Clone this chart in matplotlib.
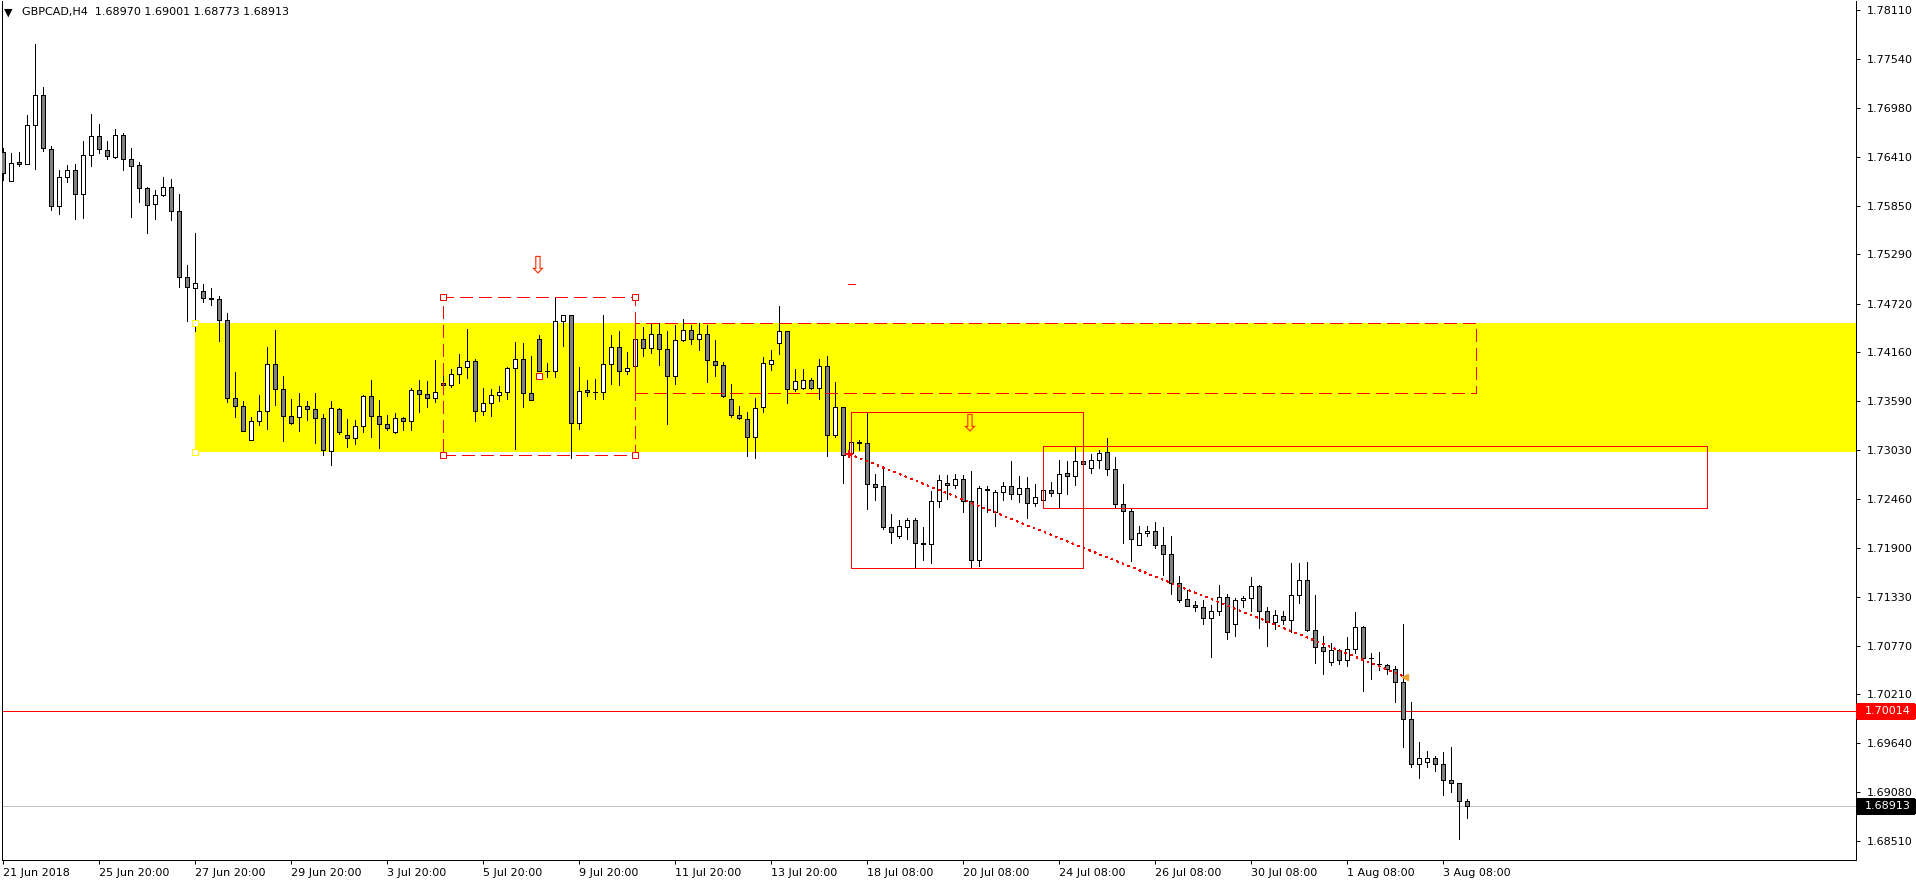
import numpy as np
import matplotlib
matplotlib.use("Agg")
import matplotlib.pyplot as plt
from matplotlib.patches import Rectangle
from matplotlib.transforms import blended_transform_factory

# GBPCAD H4 bars (bar 0 = left edge)
opens = [1.76471, 1.76135, 1.76355, 1.76332, 1.76782, 1.77129, 1.76505, 1.75847, 1.76182, 1.76263,
         1.75986, 1.76436, 1.76656, 1.76494, 1.76413, 1.76667, 1.76390, 1.76320, 1.76055, 1.75870,
         1.75974, 1.76066, 1.75789, 1.75027, 1.74900, 1.74865, 1.74784, 1.74773, 1.74530, 1.73630,
         1.73537, 1.73144, 1.73363, 1.73479, 1.74022, 1.73734, 1.73422, 1.73410, 1.73537, 1.73502,
         1.73398, 1.73017, 1.73502, 1.73202, 1.73167, 1.73306, 1.73652, 1.73422, 1.73329, 1.73237,
         1.73398, 1.73363, 1.73722, 1.73676, 1.73630, 1.73803, 1.73780, 1.73907, 1.73988, 1.74057,
         1.73479, 1.73571, 1.73664, 1.73699, 1.73976, 1.74080, 1.73687, 1.74311, 1.73941, 1.73941,
         1.74518, 1.74588, 1.73340, 1.73722, 1.73699, 1.73699, 1.74022, 1.74218, 1.73941, 1.73999,
         1.74311, 1.74207, 1.74369, 1.74195, 1.73884, 1.74299, 1.74415, 1.74311, 1.74369, 1.74057,
         1.74010, 1.73618, 1.73433, 1.73387, 1.73179, 1.73525, 1.74022, 1.74264, 1.74403, 1.73734,
         1.73745, 1.73837, 1.73745, 1.73999, 1.73202, 1.73525, 1.72994, 1.73109, 1.73109, 1.72636,
         1.72613, 1.72140, 1.72036, 1.72140, 1.72220, 1.71943, 1.71943, 1.72440, 1.72647, 1.72624,
         1.72694, 1.72440, 1.71758, 1.72578, 1.72313, 1.72544, 1.72613, 1.72521, 1.72590, 1.72417,
         1.72451, 1.72567, 1.72532, 1.72763, 1.72728, 1.72902, 1.72821, 1.72913, 1.73005, 1.72809,
         1.72405, 1.72324, 1.71931, 1.72070, 1.72093, 1.71931, 1.71828, 1.71492, 1.71308, 1.71238,
         1.71215, 1.71088, 1.71169, 1.71331, 1.71019, 1.71296, 1.71319, 1.71458, 1.71169, 1.71042,
         1.71111, 1.71065, 1.71354, 1.71527, 1.70950, 1.70753, 1.70580, 1.70719, 1.70603, 1.70730,
         1.70984, 1.70626, 1.70557, 1.70545, 1.70499, 1.70349, 1.69922, 1.69402, 1.69425, 1.69471,
         1.69402, 1.69217, 1.69182, 1.68970]
highs = [1.76517, 1.76459, 1.76471, 1.76898, 1.77718, 1.77221, 1.76540, 1.76263, 1.76320, 1.76332,
         1.76597, 1.76910, 1.76794, 1.76597, 1.76736, 1.76690, 1.76517, 1.76355, 1.76066, 1.76032,
         1.76182, 1.76159, 1.75986, 1.75165, 1.75535, 1.74946, 1.74900, 1.74807, 1.74611, 1.73930,
         1.73594, 1.73410, 1.73664, 1.74218, 1.74415, 1.73884, 1.73618, 1.73687, 1.73594, 1.73687,
         1.73445, 1.73594, 1.73514, 1.73387, 1.73375, 1.73664, 1.73837, 1.73606, 1.73433, 1.73456,
         1.73410, 1.73745, 1.73837, 1.73826, 1.74068, 1.73907, 1.73964, 1.74138, 1.74426, 1.74080,
         1.73745, 1.73734, 1.73768, 1.73988, 1.74276, 1.74264, 1.74114, 1.74357, 1.74033, 1.74784,
         1.74588, 1.74588, 1.73988, 1.73837, 1.73849, 1.74588, 1.74357, 1.74403, 1.74161, 1.74334,
         1.74449, 1.74495, 1.74495, 1.74403, 1.74472, 1.74541, 1.74472, 1.74495, 1.74472, 1.74299,
         1.74045, 1.73791, 1.73537, 1.73468, 1.73630, 1.74103, 1.74184, 1.74692, 1.74403, 1.73964,
         1.73964, 1.73860, 1.74080, 1.74114, 1.73814, 1.73525, 1.73121, 1.73144, 1.73456, 1.72752,
         1.72809, 1.72290, 1.72220, 1.72243, 1.72243, 1.72140, 1.72555, 1.72740, 1.72740, 1.72752,
         1.72740, 1.72786, 1.72613, 1.72613, 1.72567, 1.72659, 1.72902, 1.72728, 1.72717, 1.72636,
         1.72613, 1.72659, 1.72913, 1.72902, 1.73063, 1.72925, 1.72982, 1.73029, 1.73167, 1.72948,
         1.72636, 1.72348, 1.72151, 1.72151, 1.72197, 1.72140, 1.72036, 1.71573, 1.71412, 1.71284,
         1.71296, 1.71238, 1.71469, 1.71366, 1.71319, 1.71342, 1.71562, 1.71469, 1.71215, 1.71181,
         1.71169, 1.71723, 1.71723, 1.71735, 1.71354, 1.70880, 1.70799, 1.70730, 1.70868, 1.71158,
         1.70996, 1.70684, 1.70696, 1.70557, 1.70534, 1.71019, 1.70118, 1.69656, 1.69552, 1.69494,
         1.69541, 1.69599, 1.69182, 1.69001]
lows = [1.76147, 1.76135, 1.76309, 1.76332, 1.76274, 1.76482, 1.75801, 1.75755, 1.76124, 1.75697,
        1.75709, 1.76309, 1.76459, 1.76390, 1.76402, 1.76263, 1.75720, 1.75893, 1.75535, 1.75697,
        1.75963, 1.75685, 1.74911, 1.74518, 1.74403, 1.74738, 1.74703, 1.74287, 1.73583, 1.73410,
        1.73248, 1.73144, 1.73317, 1.73271, 1.73548, 1.73132, 1.73329, 1.73248, 1.73375, 1.73109,
        1.72971, 1.72855, 1.73214, 1.73063, 1.73098, 1.73237, 1.73179, 1.73052, 1.73260, 1.73225,
        1.73260, 1.73260, 1.73468, 1.73525, 1.73583, 1.73745, 1.73757, 1.73803, 1.73861, 1.73363,
        1.73433, 1.73422, 1.73594, 1.73618, 1.73040, 1.73525, 1.73606, 1.73941, 1.73872, 1.73872,
        1.74230, 1.72936, 1.73271, 1.73652, 1.73618, 1.73618, 1.73791, 1.73780, 1.73907, 1.73988,
        1.74114, 1.74149, 1.74010, 1.73329, 1.73791, 1.74287, 1.74253, 1.74184, 1.73814, 1.73884,
        1.73641, 1.73410, 1.73387, 1.72959, 1.72936, 1.73468, 1.73953, 1.74138, 1.73571, 1.73710,
        1.73734, 1.73734, 1.73618, 1.72959, 1.73179, 1.72647, 1.72948, 1.73029, 1.72348, 1.72451,
        1.72117, 1.71954, 1.72012, 1.72001, 1.71666, 1.71758, 1.71723, 1.72370, 1.72463, 1.72590,
        1.72313, 1.71666, 1.71689, 1.72313, 1.72151, 1.72451, 1.72463, 1.72428, 1.72243, 1.72382,
        1.72382, 1.72498, 1.72359, 1.72521, 1.72624, 1.72844, 1.72763, 1.72821, 1.72740, 1.72370,
        1.71954, 1.71747, 1.71931, 1.72036, 1.71897, 1.71585, 1.71366, 1.71273, 1.71227, 1.71169,
        1.71019, 1.70638, 1.71122, 1.70846, 1.70880, 1.71215, 1.71169, 1.70973, 1.70765, 1.70961,
        1.71019, 1.70927, 1.71261, 1.70938, 1.70568, 1.70442, 1.70545, 1.70557, 1.70534, 1.70684,
        1.70245, 1.70384, 1.70488, 1.70442, 1.70118, 1.69599, 1.69367, 1.69240, 1.69367, 1.69321,
        1.69044, 1.69079, 1.68536, 1.68773]
closes = [1.76228, 1.76343, 1.76332, 1.76782, 1.77129, 1.76517, 1.75847, 1.76182, 1.76263, 1.75986,
          1.76436, 1.76656, 1.76505, 1.76425, 1.76667, 1.76390, 1.76309, 1.76055, 1.75858, 1.75974,
          1.76066, 1.75789, 1.75027, 1.74911, 1.74957, 1.74784, 1.74773, 1.74530, 1.73630, 1.73537,
          1.73248, 1.73363, 1.73479, 1.74022, 1.73734, 1.73422, 1.73340, 1.73537, 1.73502, 1.73398,
          1.73029, 1.73514, 1.73237, 1.73167, 1.73306, 1.73652, 1.73422, 1.73329, 1.73283, 1.73398,
          1.73363, 1.73722, 1.73676, 1.73630, 1.73699, 1.73780, 1.73907, 1.73988, 1.74057, 1.73479,
          1.73571, 1.73664, 1.73699, 1.73976, 1.74080, 1.73687, 1.73606, 1.73941, 1.73941, 1.74518,
          1.74588, 1.73340, 1.73710, 1.73699, 1.73699, 1.74022, 1.74218, 1.73941, 1.73976, 1.74311,
          1.74207, 1.74369, 1.74195, 1.73884, 1.74299, 1.74415, 1.74311, 1.74369, 1.74068, 1.74010,
          1.73652, 1.73433, 1.73398, 1.73179, 1.73514, 1.74033, 1.74068, 1.74403, 1.73734, 1.73826,
          1.73837, 1.73745, 1.73999, 1.73202, 1.73525, 1.72971, 1.73121, 1.73121, 1.72636, 1.72601,
          1.72140, 1.72082, 1.72151, 1.72220, 1.71954, 1.71954, 1.72440, 1.72682, 1.72624, 1.72694,
          1.72440, 1.71758, 1.72590, 1.72567, 1.72544, 1.72613, 1.72521, 1.72590, 1.72417, 1.72486,
          1.72567, 1.72532, 1.72752, 1.72728, 1.72902, 1.72867, 1.72913, 1.72994, 1.72809, 1.72405,
          1.72324, 1.72001, 1.72070, 1.72093, 1.71931, 1.71828, 1.71492, 1.71296, 1.71227, 1.71215,
          1.71088, 1.71169, 1.71331, 1.70927, 1.71296, 1.71319, 1.71458, 1.71169, 1.71042, 1.71123,
          1.71065, 1.71354, 1.71527, 1.70950, 1.70753, 1.70707, 1.70719, 1.70603, 1.70730, 1.70984,
          1.70626, 1.70626, 1.70557, 1.70499, 1.70349, 1.69922, 1.69402, 1.69471, 1.69471, 1.69402,
          1.69217, 1.69182, 1.68974, 1.68913]

# time axis labels (every 12 bars) and price scale labels
tick_bars = [0, 12, 24, 36, 48, 60, 72, 84, 96, 108, 120, 132, 144, 156, 168, 180]
tick_labels = ["21 Jun 2018", "25 Jun 20:00", "27 Jun 20:00", "29 Jun 20:00", "3 Jul 20:00",
               "5 Jul 20:00", "9 Jul 20:00", "11 Jul 20:00", "13 Jul 20:00", "18 Jul 08:00",
               "20 Jul 08:00", "24 Jul 08:00", "26 Jul 08:00", "30 Jul 08:00", "1 Aug 08:00",
               "3 Aug 08:00"]
price_ticks = [1.78110, 1.77540, 1.76980, 1.76410, 1.75850, 1.75290, 1.74720, 1.74160, 1.73590,
               1.73030, 1.72460, 1.71900, 1.71330, 1.70770, 1.70210, 1.69640, 1.69080, 1.68510]

# drawn objects: (bar_left, bar_right, price_top, price_bottom)
zone = (24, 240, 1.74495, 1.73005)
dash_box1 = (55, 79, 1.74796, 1.72971)
dash_box2 = (79, 184.1, 1.74495, 1.73687)
box1 = (106, 135, 1.73468, 1.71666)
box2 = (130, 213, 1.73075, 1.72359)
trend_x = [105.8, 175.0]
trend_y = [1.72982, 1.70419]
arrow_x = [66.9, 120.9]
arrow_y = [1.75165, 1.73340]
red_level = 1.70014
last_price = 1.68913

W, H = 1916, 884
plt.rcParams['lines.antialiased'] = False
plt.rcParams['patch.antialiased'] = False
plt.rcParams['font.family'] = ['DejaVu Sans']

fig = plt.figure(figsize=(W / 100, H / 100), dpi=100)
fig.patch.set_facecolor('white')
ax = fig.add_axes([2 / W, 24 / H, 1854 / W, 859 / H])
ax.set_xlim(-0.125, 231.625)
ax.set_ylim(1.68293, 1.78215)

px = 0.72  # one pixel in points

# yellow zone
ax.add_patch(Rectangle((zone[0], zone[3]), zone[1] - zone[0], zone[2] - zone[3],
                       facecolor='#FFFF00', edgecolor='none', zorder=1))
for yy in (zone[2], zone[3]):
    ax.plot(zone[0], yy, marker='s', ms=4, mfc='white', mec='#FFFF00', mew=px, zorder=6)

# candles
o = np.array(opens); c = np.array(closes)
idx = np.arange(len(o))
ax.vlines(idx, lows, highs, color='black', lw=px, zorder=3)
colors = np.where(c >= o, 'white', '#808080')
ax.bar(idx, np.abs(c - o), 0.5, np.minimum(o, c), color=colors, edgecolor='black',
       linewidth=px, zorder=4)

# dashed rectangles
for b in (dash_box1, dash_box2):
    ax.add_patch(Rectangle((b[0], b[3]), b[1] - b[0], b[2] - b[3], fill=False,
                           edgecolor='red', lw=px, linestyle=(0, (12, 6)), zorder=5))
for xx in (dash_box1[0], dash_box1[1]):
    for yy in (dash_box1[2], dash_box1[3]):
        ax.plot(xx, yy, marker='s', ms=4, mfc='white', mec='red', mew=px, zorder=6)
ax.plot((dash_box1[0] + dash_box1[1]) / 2, 1.73884, marker='s', ms=4, mfc='white',
        mec='red', mew=px, zorder=6)

# solid rectangles
for b in (box1, box2):
    ax.add_patch(Rectangle((b[0], b[3]), b[1] - b[0], b[2] - b[3], fill=False,
                           edgecolor='red', lw=px, zorder=5))

# trend line
ax.plot(trend_x, trend_y, color='red', lw=px, linestyle=(0, (2, 5)), zorder=5)
ax.plot(trend_x[0], trend_y[0], marker='+', ms=6, mew=1.5, color='red', zorder=6)
ax.plot(trend_x[1] + 0.3, trend_y[1] - 0.00012, marker='<', ms=4, color='#F0A030', zorder=6)
ax.plot([105.6, 106.5], [1.74946, 1.74946], color='red', lw=px, zorder=5)

for xx, yy in zip(arrow_x, arrow_y):
    ax.text(xx, yy, "\u21e9", ha='center', va='center', fontsize=17, color='#FF3300', zorder=6)

# horizontal levels
ax.axhline(red_level, color='red', lw=px, zorder=2)
ax.axhline(last_price, color='#C0C0C0', lw=px, zorder=2)

# axes styling
ax.spines['top'].set_visible(False)
for s in ('left', 'right', 'bottom'):
    ax.spines[s].set_linewidth(px)
ax.yaxis.tick_right()
ax.set_yticks(price_ticks)
ax.set_yticklabels([f"{p:.5f}" for p in price_ticks])
ax.tick_params(axis='y', direction='out', length=3, width=px, pad=5, labelsize=8)
ax.set_xticks(tick_bars)
ax.set_xticklabels(tick_labels, ha='left')
ax.tick_params(axis='x', direction='out', length=3, width=px, pad=3, labelsize=8)

# price tags on the scale
trans = blended_transform_factory(ax.transAxes, ax.transData)
for val, col in ((red_level, 'red'), (last_price, 'black')):
    ax.add_patch(Rectangle((1.0005, val - 0.00081), 0.0307, 0.00162, transform=trans,
                           facecolor=col, edgecolor=col, clip_on=False, zorder=7))
    ax.text(1.0048, val, f"{val:.5f}", transform=trans, ha='left', va='center',
            fontsize=8, color='white', clip_on=False, zorder=8)

# header
fig.text(4 / W, 1 - 12.5 / H, "\u25bc", fontsize=8, va='center')
fig.text(22 / W, 1 - 12.5 / H, "GBPCAD,H4  1.68970 1.69001 1.68773 1.68913",
         fontsize=8, va='center')

fig.savefig("out.png", dpi=100, facecolor='white')
